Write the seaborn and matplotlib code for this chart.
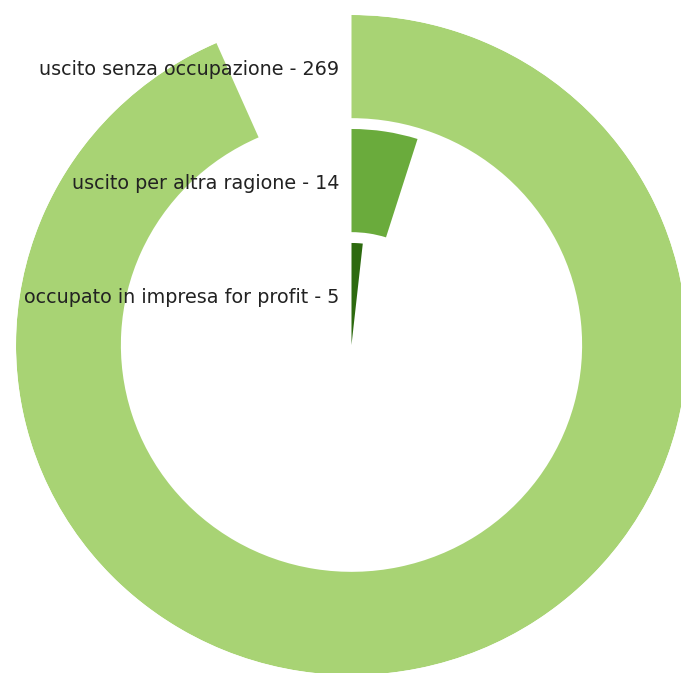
import numpy as np
import matplotlib
matplotlib.use("Agg")
import matplotlib.pyplot as plt
import matplotlib.transforms as mtransforms
import seaborn as sns

# Categories listed from the innermost ring to the outermost one
categories = ["occupato in impresa for profit",
              "uscito per altra ragione",
              "uscito senza occupazione"]
counts = [5, 14, 269]
ring_colors = ["#2d6a0f", "#6aab3c", "#a8d374"]

sns.set_style("white")
plt.rcParams["font.family"] = ["DejaVu Sans"]

W, H = 681, 673
fig = plt.figure(figsize=(W / 100, H / 100), dpi=100)

# polar axes centred at (351.5, 345) px, slightly wider than tall
cx, cy = 351.5, 345.0
rx, ry = 335.5, 330.0
ax = fig.add_axes([(cx - rx) / W, (H - cy - ry) / H, 2 * rx / W, 2 * ry / H],
                  projection="polar")
ax.set_aspect("auto")
ax.set_theta_zero_location("N")
ax.set_theta_direction(-1)

full_turn = float(sum(counts))
idx = np.arange(len(counts))
tops = idx + 0.895
bottoms = np.maximum(idx - 0.01, 0.0)

for i, (cat, val, col) in enumerate(zip(categories, counts, ring_colors)):
    sweep = np.deg2rad(val / full_turn * 360.0)
    ax.bar(0.0, tops[i] - bottoms[i], width=sweep, bottom=bottoms[i], align="edge",
           color=col, edgecolor="none", linewidth=0)
    label_tr = mtransforms.offset_copy(ax.transData, fig=fig, x=-12, y=0, units="dots")
    ax.text(0.0, i + 0.42, f"{cat} - {val}", transform=label_tr,
            ha="right", va="center", fontsize=13.8, color="#222222")

ax.set_ylim(0, 2.895)
ax.set_xticks([])
ax.set_yticks([])
ax.grid(False)
ax.spines["polar"].set_visible(False)
ax.set_facecolor("white")
fig.patch.set_facecolor("white")

fig.savefig("out.png", dpi=100, facecolor="white")
